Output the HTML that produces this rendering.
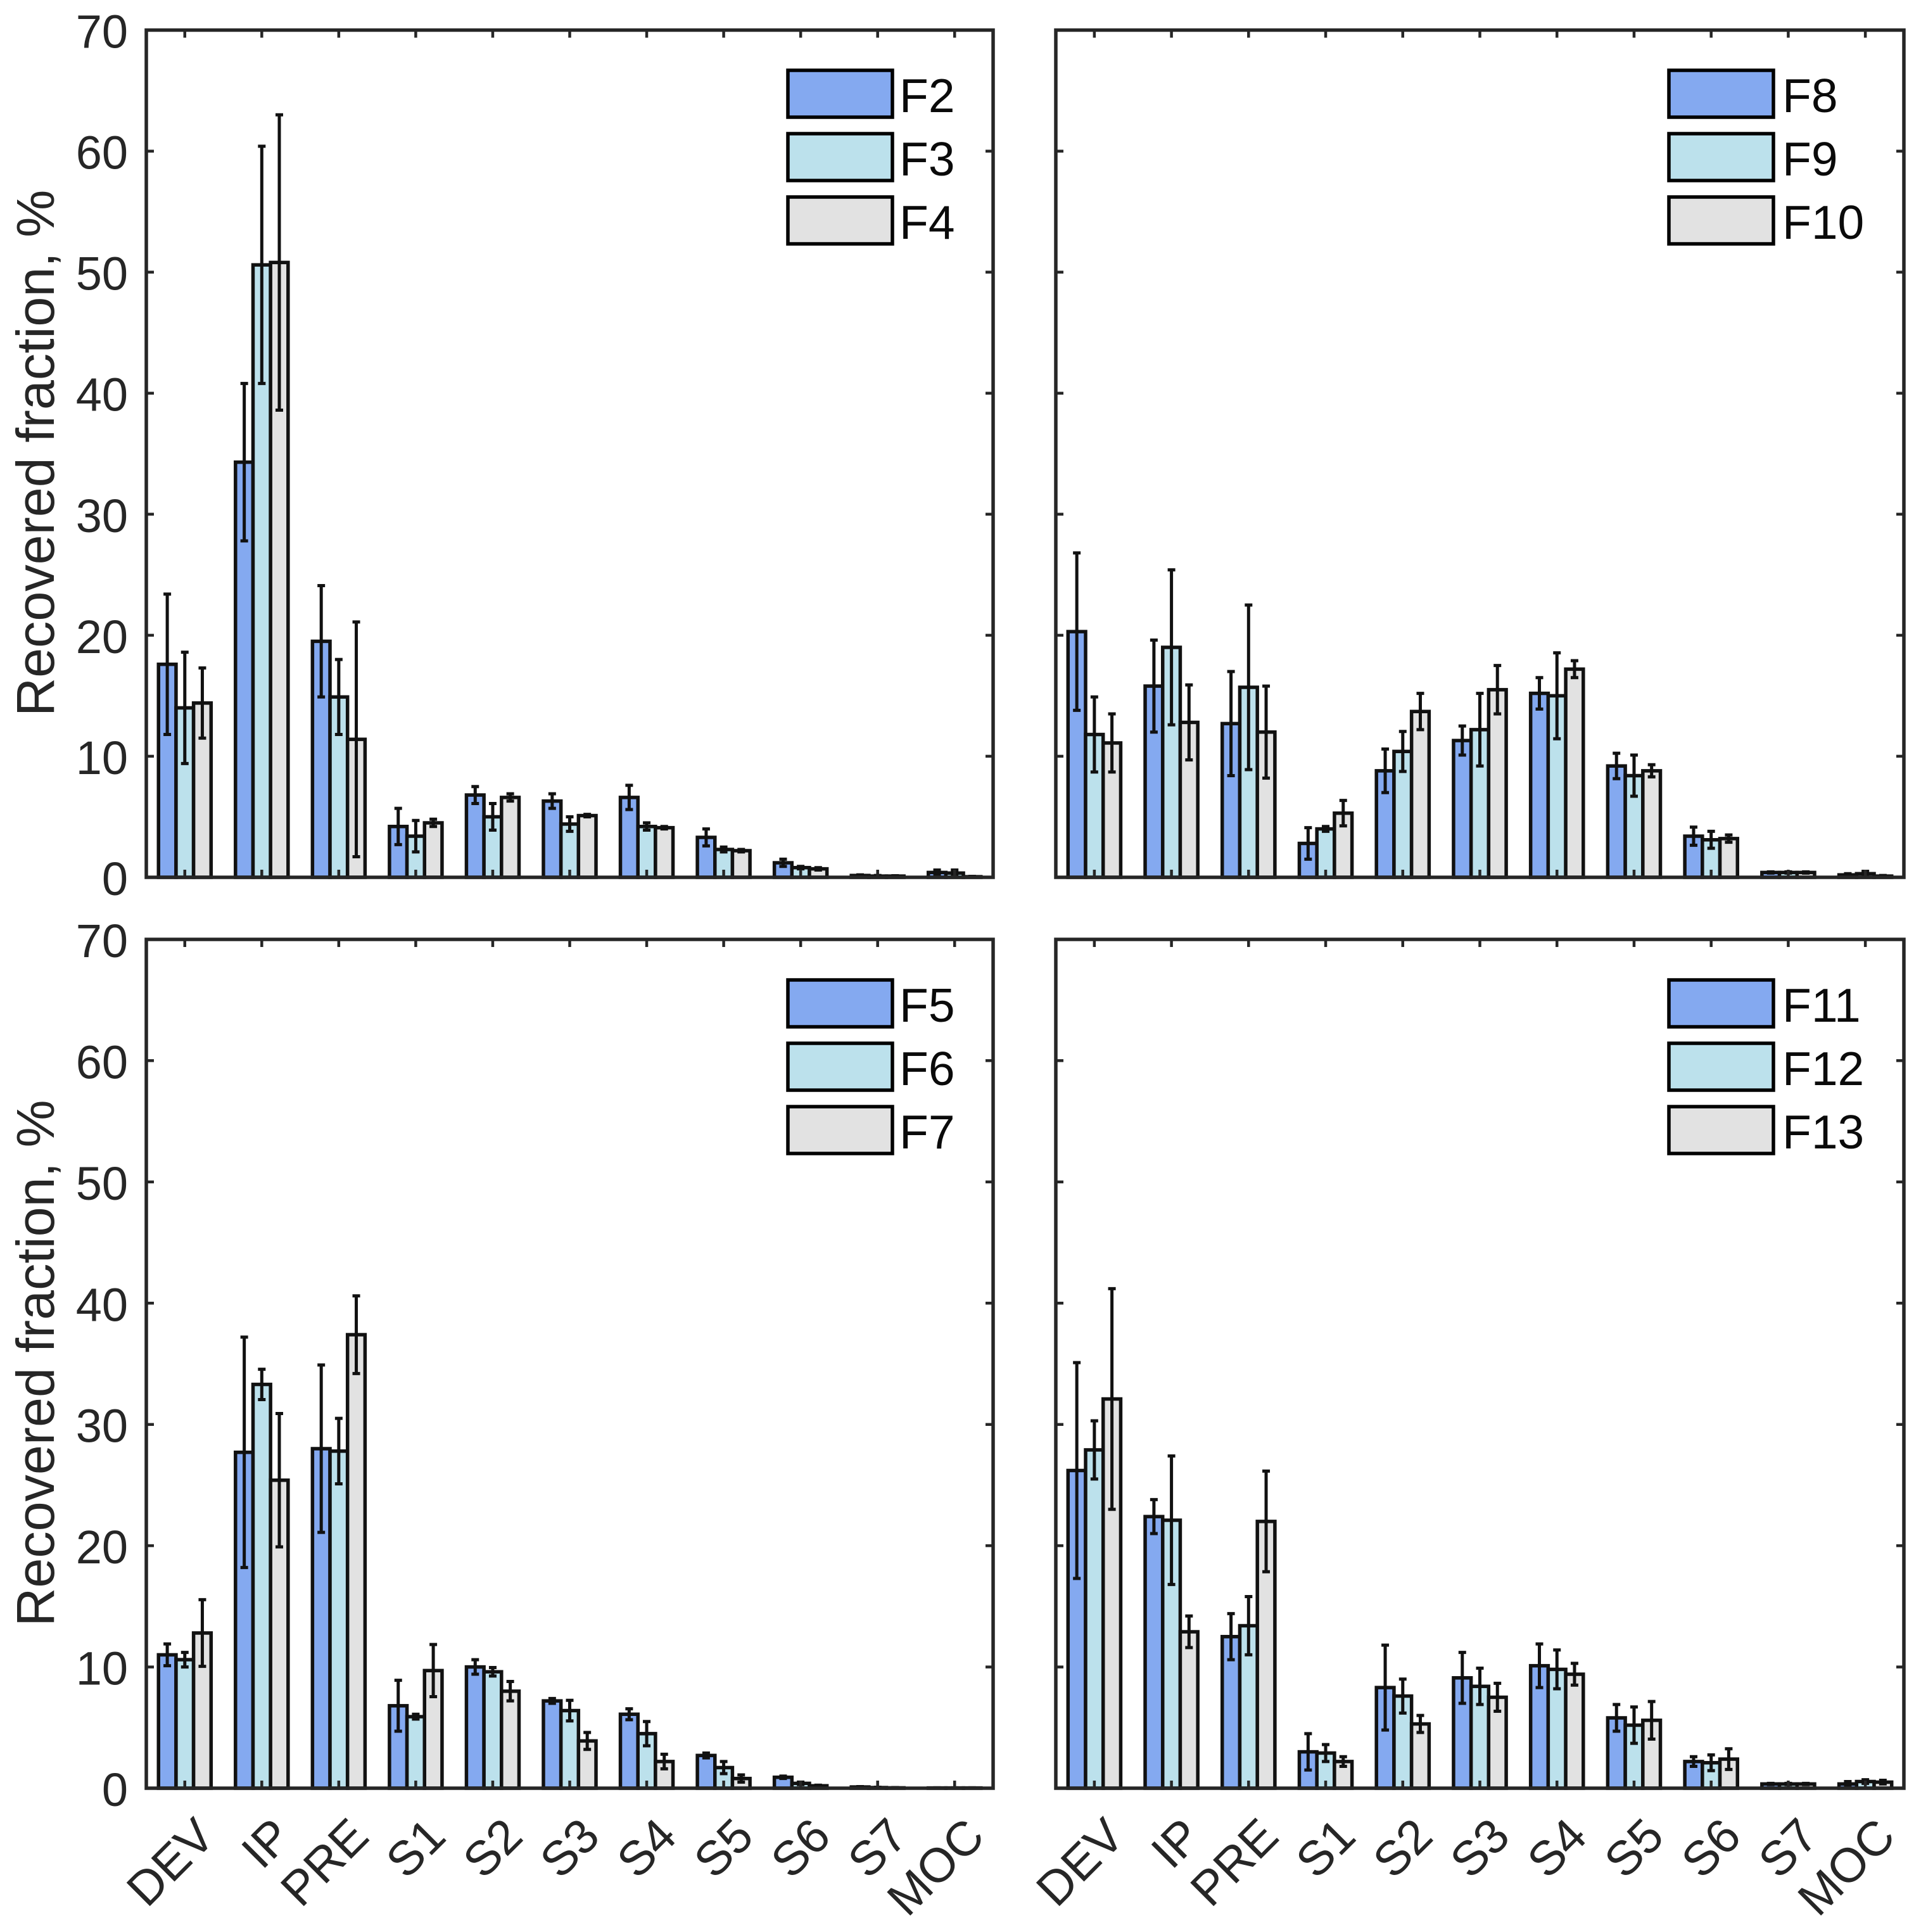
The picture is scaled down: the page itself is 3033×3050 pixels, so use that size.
<!DOCTYPE html>
<html>
<head>
<meta charset="utf-8">
<style>
html,body{margin:0;padding:0;background:#fff;}
svg{display:block;font-family:"Liberation Sans",Arial,sans-serif;}
</style>
</head>
<body>
<svg id="chart" xmlns="http://www.w3.org/2000/svg" width="3033" height="3050" viewBox="0 0 3033 3050"></svg>
<script>
const categories = ['DEV','IP','PRE','S1','S2','S3','S4','S5','S6','S7','MOC'];
const yTicks = [0,10,20,30,40,50,60,70];

const f2Values = [17.6,34.3,19.5,4.2,6.8,6.3,6.6,3.3,1.2,0.15,0.4];
const f2Errors = [5.8,6.5,4.6,1.5,0.7,0.6,1.0,0.7,0.3,0.05,0.2];
const f3Values = [14.0,50.6,14.9,3.4,5.0,4.4,4.2,2.3,0.8,0.1,0.35];
const f3Errors = [4.6,9.8,3.1,1.3,1.1,0.6,0.3,0.2,0.1,0.05,0.25];
const f4Values = [14.4,50.8,11.4,4.5,6.6,5.1,4.1,2.2,0.7,0.1,0.05];
const f4Errors = [2.9,12.2,9.7,0.3,0.3,0.1,0.1,0.1,0.1,0.03,0.03];

const f8Values = [20.3,15.8,12.7,2.8,8.8,11.3,15.2,9.2,3.4,0.4,0.2];
const f8Errors = [6.5,3.8,4.3,1.3,1.8,1.2,1.3,1.05,0.75,0.05,0.1];
const f9Values = [11.8,19.0,15.7,4.0,10.4,12.2,15.0,8.4,3.1,0.4,0.3];
const f9Errors = [3.1,6.4,6.8,0.2,1.65,3.0,3.55,1.7,0.7,0.05,0.2];
const f10Values = [11.1,12.8,12.0,5.3,13.7,15.5,17.2,8.8,3.2,0.4,0.1];
const f10Errors = [2.4,3.1,3.8,1.05,1.5,2.0,0.7,0.5,0.3,0.05,0.05];

const f5Values = [11.0,27.7,28.0,6.8,10.0,7.2,6.1,2.7,0.9,0.1,0.02];
const f5Errors = [0.9,9.5,6.9,2.1,0.6,0.2,0.45,0.2,0.1,0.03,0.01];
const f6Values = [10.6,33.3,27.8,5.9,9.6,6.4,4.5,1.7,0.4,0.05,0.02];
const f6Errors = [0.6,1.25,2.7,0.2,0.35,0.85,1.0,0.5,0.1,0.03,0.01];
const f7Values = [12.8,25.4,37.4,9.7,8.0,3.9,2.2,0.8,0.2,0.03,0.02];
const f7Errors = [2.75,5.5,3.2,2.15,0.8,0.7,0.6,0.3,0.05,0.02,0.01];

const f11Values = [26.2,22.4,12.5,3.0,8.3,9.1,10.1,5.8,2.2,0.35,0.35];
const f11Errors = [8.9,1.4,1.9,1.5,3.5,2.1,1.8,1.1,0.4,0.05,0.2];
const f12Values = [27.9,22.1,13.4,2.9,7.6,8.4,9.8,5.2,2.1,0.35,0.55];
const f12Errors = [2.4,5.3,2.4,0.7,1.4,1.5,1.6,1.5,0.65,0.05,0.15];
const f13Values = [32.1,12.9,22.0,2.2,5.3,7.5,9.4,5.6,2.4,0.35,0.5];
const f13Errors = [9.1,1.3,4.15,0.4,0.7,1.15,0.9,1.55,0.85,0.05,0.15];

const seriesColors = ['#84A9F0','#BCE1EC','#E2E2E2'];

const panels = [
  {key:'top-left', left:231, right:1568, top:47.5, bottom:1385, yLabels:true, xLabels:false, legendX:1244, textX:1420, legendY:111,
   series:[{name:'F2',values:f2Values,errors:f2Errors},{name:'F3',values:f3Values,errors:f3Errors},{name:'F4',values:f4Values,errors:f4Errors}]},
  {key:'top-right', left:1667, right:3006, top:47.5, bottom:1385, yLabels:false, xLabels:false, legendX:2635, textX:2814, legendY:111,
   series:[{name:'F8',values:f8Values,errors:f8Errors},{name:'F9',values:f9Values,errors:f9Errors},{name:'F10',values:f10Values,errors:f10Errors}]},
  {key:'bottom-left', left:231, right:1568, top:1483, bottom:2823, yLabels:true, xLabels:true, legendX:1244, textX:1420, legendY:1547,
   series:[{name:'F5',values:f5Values,errors:f5Errors},{name:'F6',values:f6Values,errors:f6Errors},{name:'F7',values:f7Values,errors:f7Errors}]},
  {key:'bottom-right', left:1667, right:3006, top:1483, bottom:2823, yLabels:false, xLabels:true, legendX:2635, textX:2814, legendY:1547,
   series:[{name:'F11',values:f11Values,errors:f11Errors},{name:'F12',values:f12Values,errors:f12Errors},{name:'F13',values:f13Values,errors:f13Errors}]}
];

const NS = 'http://www.w3.org/2000/svg';
const svg = document.getElementById('chart');
const AXIS = '#262626';
const INK = '#111111';

function make(tag, attrs, parent) {
  const el = document.createElementNS(NS, tag);
  for (const k in attrs) el.setAttribute(k, attrs[k]);
  parent.appendChild(el);
  return el;
}

function drawPanel(p) {
  const g = make('g', {}, svg);
  
  
  const yMax = yTicks[yTicks.length - 1];
  const step = (p.right - p.left) / categories.length;
  const xScale = i => p.left + (i + 0.5) * step;
  const yScale = v => p.bottom - (v / yMax) * (p.bottom - p.top);
  const barW = step * 0.2277;

  p.series.forEach((s, si) => {
    s.values.forEach((v, i) => {
      const cx = xScale(i) + (si - 1) * barW;
      const bar = make('rect', {x: cx - barW / 2, y: yScale(v), width: barW, height: p.bottom - yScale(v), fill: seriesColors[si], stroke: INK, 'stroke-width': 5.5}, g);
      
      
    });
  });

  p.series.forEach((s, si) => {
    s.values.forEach((v, i) => {
      const cx = xScale(i) + (si - 1) * barW;
      const hi = yScale(v + s.errors[i]);
      const lo = yScale(Math.max(0, v - s.errors[i]));
      const path = 'M' + cx + ' ' + hi + 'V' + lo + 'M' + (cx - 6) + ' ' + hi + 'H' + (cx + 6) + 'M' + (cx - 6) + ' ' + lo + 'H' + (cx + 6);
      const err = make('path', {d: path, fill: 'none', stroke: INK, 'stroke-width': 5}, g);
      
      
    });
  });

  categories.forEach((c, i) => {
    const x = xScale(i);
    const tick = make('path', {d: 'M' + x + ' ' + p.bottom + 'v-12M' + x + ' ' + p.top + 'v12', stroke: AXIS, 'stroke-width': 4.5, fill: 'none'}, g);
    
    
    if (p.xLabels) {
      const lx = x + 51;
      const ly = p.bottom + 80;
      const t = make('text', {x: lx, y: ly, 'text-anchor': 'end', 'font-size': 76, fill: AXIS, transform: 'rotate(-45 ' + lx + ' ' + ly + ')'}, g);
      t.textContent = c;
      
      
    }
  });

  yTicks.forEach(v => {
    const y = yScale(v);
    const tick = make('path', {d: 'M' + p.left + ' ' + y + 'h12M' + p.right + ' ' + y + 'h-12', stroke: AXIS, 'stroke-width': 4.5, fill: 'none'}, g);
    
    
    if (p.yLabels) {
      const t = make('text', {x: 202, y: y + 28, 'text-anchor': 'end', 'font-size': 74, fill: AXIS}, g);
      t.textContent = String(v);
      
      
    }
  });

  const box = make('rect', {x: p.left, y: p.top, width: p.right - p.left, height: p.bottom - p.top, fill: 'none', stroke: AXIS, 'stroke-width': 5.5}, g);
  
  

  if (p.yLabels) {
    const cy = (p.top + p.bottom) / 2 - 1;
    const label = make('text', {x: 85, y: cy, 'text-anchor': 'middle', 'font-size': 84.5, fill: AXIS, transform: 'rotate(-90 85 ' + cy + ')'}, g);
    label.textContent = 'Recovered fraction, %';
    
    
  }

  p.series.forEach((s, si) => {
    const y = p.legendY + si * 100;
    const swatch = make('rect', {x: p.legendX, y: y, width: 165, height: 74, fill: seriesColors[si], stroke: '#000', 'stroke-width': 5.5}, g);
    
    
    const t = make('text', {x: p.textX, y: y + 66, 'font-size': 75, fill: '#0a0a0a'}, g);
    t.textContent = s.name;
    
    
  });
}

panels.forEach(drawPanel);
</script>
</body>
</html>
